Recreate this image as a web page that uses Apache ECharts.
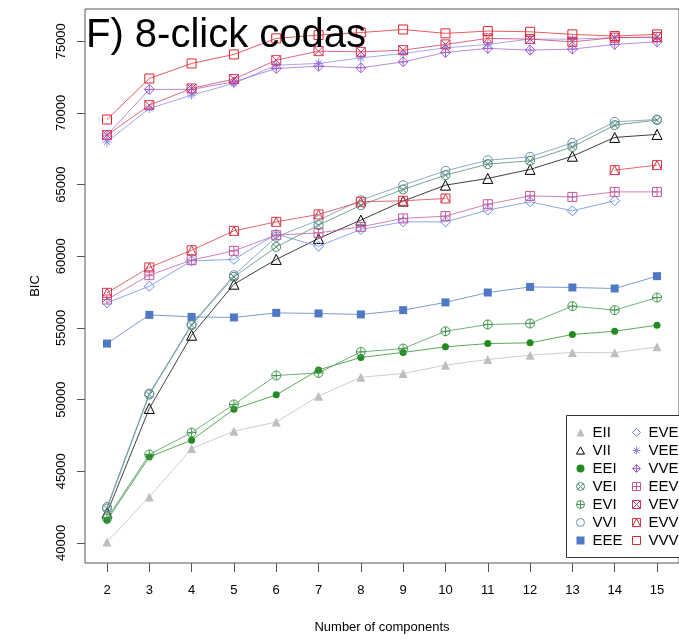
<!DOCTYPE html>
<html>
<head>
<meta charset="utf-8">
<script src="https://cdn.jsdelivr.net/npm/echarts@6/dist/echarts.min.js"></script>
<style>
  html, body { margin: 0; padding: 0; background: #fff; }
  #chart { width: 679px; height: 639px; }
</style>
</head>
<body>
<div id="chart"></div>
<script>
// number of mixture components on the x axis
const components = [2, 3, 4, 5, 6, 7, 8, 9, 10, 11, 12, 13, 14, 15];
const xTicks = [2, 3, 4, 5, 6, 7, 8, 9, 10, 11, 12, 13, 14, 15];
const yTicks = [40000, 45000, 50000, 55000, 60000, 65000, 70000, 75000];

// BIC values, one array per model
const EII = [40070, 43210, 46590, 47790, 48440, 50240, 51560, 51820, 52400, 52800, 53100, 53290, 53270, 53680];
const VII = [42090, 49380, 54490, 58050, 59780, 61240, 62520, 63850, 64960, 65430, 66060, 66980, 68290, 68500];
const EEI = [41580, 46000, 47170, 49330, 50330, 52070, 52940, 53290, 53680, 53910, 53960, 54540, 54770, 55190];
const VEI = [42400, 50350, 55190, 58560, 60650, 62170, 63560, 64660, 65660, 66430, 66660, 67630, 69150, 69500];
const EVI = [41700, 46170, 47700, 49660, 51680, 51860, 53330, 53560, 54770, 55240, 55310, 56520, 56240, 57120];
const VVI = [42510, 50430, 55260, 58680, 61350, 62520, 63910, 64960, 65960, 66700, 66940, 67910, 69380, 69540];
const EEE = [53910, 55910, 55770, 55730, 56050, 56010, 55940, 56240, 56780, 57470, 57860, 57820, 57750, 58610];
const EVE = [56750, 57910, 59680, 59780, 61540, 60700, 61870, 62400, 62400, 63220, 63800, 63170, 63870, null];
const VEE = [67980, 70310, 71240, 72060, 73330, 73450, 73840, 74150, 74540, 74780, 75150, 75150, 75250, 75250];
const VVE = [68450, 71640, 71640, 72170, 73100, 73260, 73150, 73560, 74220, 74500, 74380, 74450, 74780, 74960];
const EEV = [56980, 58680, 59730, 60380, 61470, 61630, 62050, 62640, 62800, 63630, 64210, 64140, 64490, 64490];
const VEV = [68450, 70540, 71710, 72360, 73680, 74310, 74260, 74380, 74780, 75200, 75150, 74960, 75250, 75300];
const EVV = [57450, 59220, 60420, 61770, 62400, 62920, 63800, 63870, 64030, null, null, null, 66010, 66360];
const VVV = [69540, 72400, 73450, 74080, 75200, 75430, 75610, 75820, 75550, 75710, 75660, 75480, 75360, 75480];

// R-like plotting symbols (outlines drawn with a 1px stroke)
const P_SQ = 'path://M0 0L10 0L10 10L0 10Z';
const P_SQX = 'path://M0 0L10 0L10 10L0 10Z M0 0L10 10 M10 0L0 10';
const P_SQPLUS = 'path://M0 0L10 0L10 10L0 10Z M5 0L5 10 M0 5L10 5';
const P_SQTRI = 'path://M0 0L10 0L10 10L0 10Z M0 10L5 0L10 10';
const P_CIR = 'path://M0 5A5 5 0 1 0 10 5A5 5 0 1 0 0 5Z';
const P_CIRPLUS = 'path://M0 5A5 5 0 1 0 10 5A5 5 0 1 0 0 5Z M5 0L5 10 M0 5L10 5';
const P_CIRX = 'path://M0 5A5 5 0 1 0 10 5A5 5 0 1 0 0 5Z M1.5 1.5L8.5 8.5 M8.5 1.5L1.5 8.5';
const P_STAR = 'path://M5 0L5 10 M0 5L10 5 M1.5 1.5L8.5 8.5 M8.5 1.5L1.5 8.5';
const P_DIA = 'path://M5 0L10 5L5 10L0 5Z';
const P_DIAPLUS = 'path://M5 0L10 5L5 10L0 5Z M5 0L5 10 M0 5L10 5';
const P_TRI = 'path://M5 0L10 9L0 9Z';

const models = [
  {name: 'EII', data: EII, color: '#BEBEBE', symbol: 'triangle', size: 9},
  {name: 'VII', data: VII, color: '#000000', symbol: P_TRI, path: true, size: 10},
  {name: 'EEI', data: EEI, color: '#218B21', symbol: 'circle', size: 7},
  {name: 'VEI', data: VEI, color: '#4C8A6C', symbol: P_CIRX, path: true, size: 9},
  {name: 'EVI', data: EVI, color: '#45974F', symbol: P_CIRPLUS, path: true, size: 9},
  {name: 'VVI', data: VVI, color: '#6A8FAF', symbol: P_CIR, path: true, size: 9},
  {name: 'EEE', data: EEE, color: '#4F79C6', symbol: 'rect', size: 8},
  {name: 'EVE', data: EVE, color: '#6488EC', symbol: P_DIA, path: true, size: 10},
  {name: 'VEE', data: VEE, color: '#8A8AF2', symbol: P_STAR, path: true, size: 9},
  {name: 'VVE', data: VVE, color: '#A060D4', symbol: P_DIAPLUS, path: true, size: 10},
  {name: 'EEV', data: EEV, color: '#C3579C', symbol: P_SQPLUS, path: true, size: 9},
  {name: 'VEV', data: VEV, color: '#D2365A', symbol: P_SQX, path: true, size: 9},
  {name: 'EVV', data: EVV, color: '#DA3445', symbol: P_SQTRI, path: true, size: 9},
  {name: 'VVV', data: VVV, color: '#E0242B', symbol: P_SQ, path: true, size: 9}
];

const font = 'Liberation Sans, Arial, sans-serif';

function itemStyleFor(m) {
  if (m.path) {
    return {color: 'rgba(255,255,255,0)', borderColor: m.color, borderWidth: 1};
  }
  return {color: m.color, borderWidth: 0};
}

const series = models.map(function (m) {
  return {
    name: m.name,
    type: 'line',
    data: components.map(function (c, i) { return [c, m.data[i]]; }),
    symbol: m.symbol,
    symbolSize: m.size,
    connectNulls: false,
    lineStyle: {color: m.color, width: 1, opacity: 0.75},
    itemStyle: itemStyleFor(m),
    emphasis: {disabled: true},
    animation: false
  };
});

function legendFor(list, left) {
  return {
    orient: 'vertical',
    left: left,
    top: 425,
    itemWidth: 8,
    itemHeight: 8,
    itemGap: 3,
    padding: 0,
    z: 10,
    selectedMode: false,
    textStyle: {fontFamily: font, fontSize: 15, color: '#000', lineHeight: 15, padding: [0, 0, 0, 3]},
    data: list.map(function (m) {
      return {name: m.name, icon: m.symbol, itemStyle: itemStyleFor(m)};
    })
  };
}

const chart = echarts.init(document.getElementById('chart'), null, {renderer: 'canvas'});
chart.setOption({
  animation: false,
  backgroundColor: '#fff',
  title: {
    text: 'F) 8-click codas',
    left: 86,
    top: 16,
    padding: 0,
    z: 12,
    textStyle: {fontFamily: font, fontSize: 40, fontWeight: 'normal', color: '#000'}
  },
  grid: {
    show: true,
    left: 85,
    top: 9,
    width: 610,
    height: 554,
    borderColor: '#555',
    borderWidth: 1,
    backgroundColor: 'transparent'
  },
  legend: [legendFor(models.slice(0, 7), 576), legendFor(models.slice(7), 632)],
  graphic: [{
    type: 'rect',
    z: 9,
    shape: {x: 566.5, y: 415.5, width: 200, height: 142},
    style: {fill: '#fff', stroke: '#333', lineWidth: 1}
  }],
  xAxis: {
    type: 'value',
    min: 1.48,
    max: 15.52,
    name: 'Number of components',
    nameLocation: 'middle',
    nameGap: 58,
    nameTextStyle: {fontFamily: font, fontSize: 13, color: '#000'},
    axisLine: {show: false},
    axisTick: {show: true, length: 9, customValues: xTicks, lineStyle: {color: '#555'}},
    axisLabel: {customValues: xTicks, margin: 21, fontFamily: font, fontSize: 13, color: '#000',
      formatter: function (v) { return String(v); }},
    splitLine: {show: false}
  },
  yAxis: {
    type: 'value',
    min: 38600,
    max: 77250,
    name: 'BIC',
    nameLocation: 'middle',
    nameGap: 43,
    nameTextStyle: {fontFamily: font, fontSize: 13, color: '#000'},
    axisLine: {show: false},
    axisTick: {show: true, length: 8, customValues: yTicks, lineStyle: {color: '#555'}},
    axisLabel: {customValues: yTicks, rotate: 90, margin: 17, fontFamily: font, fontSize: 13, color: '#000',
      formatter: function (v) { return String(v); }},
    splitLine: {show: false}
  },
  series: series
});
</script>
</body>
</html>
